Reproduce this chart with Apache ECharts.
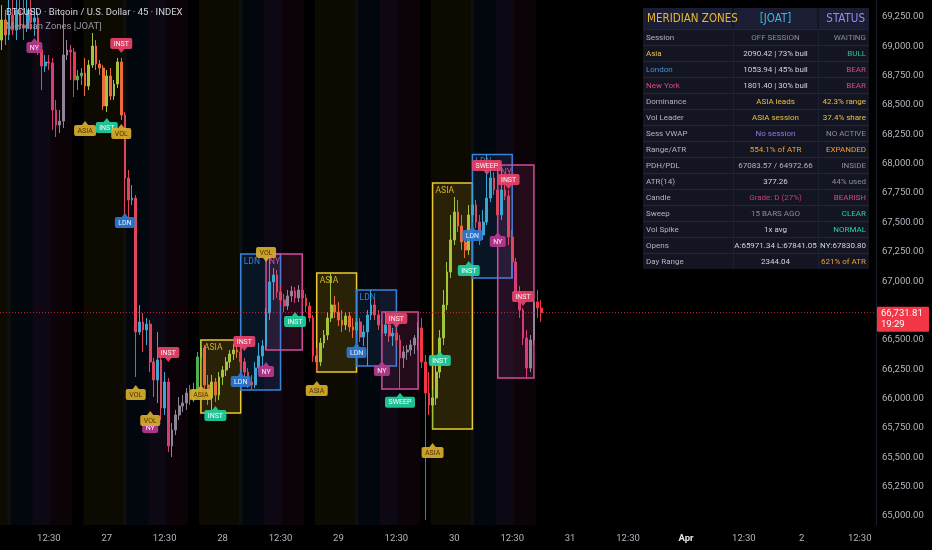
<!DOCTYPE html>
<html>
<head>
<meta charset="utf-8">
<style>html,body{margin:0;padding:0;background:#000;}#chart{width:932px;height:550px;}</style>
<script src="https://cdn.jsdelivr.net/npm/echarts@6/dist/echarts.min.js"></script>
</head>
<body>
<div id="chart"></div>
<script>
// ---------------- DATA ----------------
const titleText = 'BTCUSD · Bitcoin / U.S. Dollar · 45 · INDEX';
const subtitleText = 'Meridian Zones [JOAT]';
const barCount = 242;                 // visible bar slots (incl. empty future space)
const tickLabels = ['12:30','27','12:30','28','12:30','29','12:30','30','12:30','31','12:30','Apr','12:30','2','12:30'];
const firstTickBar = 13, barsPerTick = 16;
const yMin = 64923, yMax = 69395;
// 66,750 is hidden behind the last-price tag in the reference
const yTicks = [65000,65250,65500,65750,66000,66250,66500,67000,67250,67500,67750,68000,68250,68500,68750,69000,69250];
const lastPrice = 66731.81;
const countdown = '19:29';

// [open, close, low, high]
const candles = [
[69054,69225,68969,69352],[69225,69097,69012,69310],[69097,69267,69054,69395],[69267,69139,69097,69438],
[69139,69310,69054,69480],[69310,69182,69139,69480],[69182,69156,69054,69395],[69156,69310,69122,69480],
[69310,69208,69139,69438],[69208,69242,69088,69327],[69242,68969,68926,69293],[68969,68833,68628,69012],
[68833,68867,68782,68926],[68867,68858,68799,68926],[68858,68458,68288,68901],[68458,68330,68228,68543],
[68330,68364,68262,68458],[68364,68926,68305,69293],[68926,68969,68884,69054],[68969,68952,68714,69012],
[68952,68714,68569,68986],[68714,68748,68628,68799],[68748,68773,68671,68816],[68773,68662,68577,68901],
[68662,68841,68628,68884],[68841,69003,68816,69114],[69003,68850,68799,69054],[68850,68816,68756,68884],
[68816,68492,68458,68841],[68492,68748,68441,68799],[68748,68577,68543,68816],[68577,68679,68543,68714],
[68679,68867,68645,68901],[68867,68415,68373,68901],[68415,67879,67564,68441],[67879,67691,67504,67947],
[67691,67708,67649,67819],[67708,66567,66184,67734],[66567,66652,66541,66797],[66652,66584,66397,66729],
[66584,66635,66456,66686],[66635,66312,66226,66669],[66312,66158,66013,66346],[66158,66329,65962,66567],
[66329,65920,65817,66371],[65920,66141,65860,66226],[66141,65596,65545,66175],[65596,65732,65502,65792],
[65732,65860,65690,65903],[65860,65937,65817,66013],[65937,65962,65886,66030],[65962,66047,65903,66090],
[66047,65988,65945,66116],[65988,66073,65971,66133],[66073,66354,66030,66397],[66354,66431,66286,66499],
[66431,66116,66073,66456],[66116,66005,65945,66201],[66005,66141,65877,66201],[66141,66030,65971,66175],
[66030,66184,65988,66226],[66184,66243,66116,66277],[66243,66312,66192,66354],[66312,66380,66260,66414],
[66380,66414,66329,66465],[66414,66397,66346,66456],[66397,66312,66243,66431],[66312,66226,66175,66346],
[66226,66141,66090,66260],[66141,66116,66073,66201],[66116,66260,66090,66312],[66260,66363,66226,66473],
[66363,66448,66243,66499],[66448,66729,66414,66771],[66729,66993,66669,67231],[66993,67052,66840,67112],
[67052,66908,66857,67095],[66908,66840,66797,66967],[66840,66789,66737,66891],[66789,66874,66754,66925],
[66874,66916,66823,66959],[66916,66857,66814,66950],[66857,66925,66823,66967],[66925,66857,66797,66959],
[66857,66789,66737,66891],[66789,66686,66652,66823],[66686,66363,66312,66712],[66363,66312,66226,66431],
[66312,66473,66277,66516],[66473,66541,66431,66584],[66541,66686,66499,66737],[66686,66797,66652,67070],
[66797,66737,66686,66874],[66737,66669,66618,66823],[66669,66627,66567,66754],[66627,66703,66584,66737],
[66703,66610,66567,66737],[66610,66584,66516,66686],[66584,66652,66550,66686],[66652,66524,66482,66686],
[66524,66567,66448,66627],[66567,66712,66277,66754],[66712,66797,66669,66925],[66797,66712,66669,66840],
[66712,66627,66584,66754],[66627,66558,66516,66669],[66558,66627,66533,66737],[66627,66533,66482,66669],
[66533,66558,66448,66601],[66558,66499,66448,66584],[66499,66346,66081,66541],[66346,66397,66260,66448],
[66397,66414,66329,66456],[66414,66456,66363,66499],[66456,66516,66380,66541],[66516,66601,66414,66652],
[66601,66312,66260,66686],[66312,66047,64966,66371],[66047,65945,65860,66226],[65945,66005,65741,66073],
[66005,66226,65945,66286],[66226,66516,66175,66584],[66516,66797,66456,66925],[66797,67078,66754,67163],
[67078,67351,67027,67564],[67351,67589,67308,67717],[67589,67470,67419,67691],[67470,67334,67265,67564],
[67334,67265,67197,67419],[67265,67564,67223,67649],[67564,67649,67504,67836],[67649,67504,67453,67691],
[67504,67393,67308,67564],[67393,67504,67351,67606],[67504,67708,67478,68080],[67708,67879,67674,67989],
[67879,67777,67734,67930],[67777,67564,67308,67819],[67564,67777,67521,67989],[67777,67725,67691,67904],
[67725,67376,67308,67777],[67376,67163,67027,67436],[67163,66908,66857,67197],[66908,66754,66686,66959],
[66754,66516,66456,66771],[66516,66260,66175,66584],[66260,66499,66226,66541],[66499,66823,66456,66882],
[66823,66771,66686,66925],[66771,66731.81,66652,66840]
];

// session windows in bar indices: [session, firstBar, lastBar]
const sessionBands = [
['asia',0,2],['ldn',2,13],['ny',9,19],
['asia',23,34],['ldn',34,45],['ny',41,51],
['asia',55,66],['ldn',66,77],['ny',73,83],
['asia',87,98],['ldn',98,109],['ny',105,115],
['asia',119,130],['ldn',130,141],['ny',137,147]
];
const boxSessions = sessionBands.slice(6);
const sessionNames = {asia:'ASIA', ldn:'LDN', ny:'NY'};

// signal labels
const labelBars   = [9,33,23,29,33,34,46,37,41,41,55,59,67,66,73,73,81,87,98,109,105,110,121,119,129,130,134,140,137,144];
const labelPrices = [69071,68944,68364,68390,68339,67581,66312,66116,65835,65894,66116,65937,66405,66226,66311,67163,66737,66150,66473,66601,66320,66050,66405,65621,67172,67470,67904,67785,67419,66789];
const labelTexts  = ['NY','INST','ASIA','INST','VOL','LDN','INST','VOL','NY','VOL','ASIA','INST','INST','LDN','NY','VOL','INST','ASIA','LDN','INST','NY','SWEEP','INST','ASIA','INST','LDN','SWEEP','INST','NY','INST'];
const labelTones  = ['ny','bear','gold','bull','gold','ldn','bear','gold','ny','gold','gold','bull','bear','ldn','ny','gold','bull','gold','ldn','bear','ny','bull','bull','gold','bull','ldn','bear','bear','ny','bear'];
const labelSides  = ['up','down','up','up','up','up','down','up','up','up','up','up','down','up','up','down','up','up','up','down','up','up','up','up','up','up','down','down','up','down'];

// dashboard table
const tableHeader = ['MERIDIAN ZONES','[JOAT]','STATUS'];
const rowLabels = ['Session','Asia','London','New York','Dominance','Vol Leader','Sess VWAP','Range/ATR','PDH/PDL','ATR(14)','Candle','Sweep','Vol Spike','Opens','Day Range'];
const rowValues = ['OFF SESSION','2090.42 | 73% bull','1053.94 | 45% bull','1801.40 | 30% bull','ASIA leads','ASIA session','No session','554.1% of ATR','67083.57 / 64972.66','377.26','Grade: D (27%)','15 BARS AGO','1x avg','A:65971.34 L:67841.05','2344.04'];
const rowStatus = ['WAITING','BULL','BEAR','BEAR','42.3% range','37.4% share','NO ACTIVE','EXPANDED','INSIDE','44% used','BEARISH','CLEAR','NORMAL','NY:67830.80','621% of ATR'];

// ---------------- STYLES ----------------
const C = {gray:'#8a8e99', light:'#b2b5be', white:'#d1d4dc', gold:'#e6c040', blue:'#3f8fe0', pink:'#e0457b', green:'#1fc98b', teal:'#1fd6a6', purple:'#8c7ae6', orange:'#f0a028', rose:'#c2407a'};
const labelColCol = [C.light, C.gold, C.blue, C.pink, C.light, C.light, C.light, C.light, C.light, C.light, C.light, C.light, C.light, C.light, C.light];
const valueColCol = [C.gray, C.white, C.white, C.white, C.gold, C.gold, C.purple, C.orange, C.light, C.white, C.rose, C.gray, C.white, C.white, C.white];
const statusColCol = [C.gray, C.green, C.pink, C.pink, C.gold, C.gold, C.gray, C.orange, C.gray, C.gray, C.pink, C.teal, C.teal, C.white, C.orange];

const bandFill = {asia:'rgba(230,180,40,0.055)', ldn:'rgba(40,110,225,0.06)', ny:'rgba(205,50,140,0.06)'};
const boxStyle = {
  asia:{stroke:'#ecc92e', fill:'rgba(236,201,46,0.13)', text:'#d9b52c'},
  ldn:{stroke:'#3b82d9', fill:'rgba(59,130,217,0.12)', text:'#3f7fd0'},
  ny:{stroke:'#cf4c9b', fill:'rgba(207,76,155,0.12)', text:'#cf4c9b'}
};
const toneStyle = {
  gold:{fill:'#d9ad2b', text:'#4a3800'},
  bull:{fill:'#1fd1a0', text:'#effffa'},
  bear:{fill:'#e8436a', text:'#ffeef2'},
  ldn:{fill:'#2f78d2', text:'#e6f0ff'},
  ny:{fill:'#b63a8e', text:'#ffe9f7'}
};
const candleTint = {
  off:{up:'#4caf50', down:'#f23645'},
  asia:{up:'#a3c53a', down:'#ee6a3c'},
  ldn:{up:'#3ba6cf', down:'#e0455e'},
  ny:{up:'#8f8598', down:'#d83c78'}
};
const FONT = 'Roboto, "Noto Sans", sans-serif';
const NARROW = '"Liberation Sans Narrow", "DejaVu Sans Condensed", Roboto, sans-serif';

function sessionOf(i) {
  let s = 'off';
  const prio = {off:0, asia:1, ny:2, ldn:3};
  sessionBands.forEach(b => { if (i >= b[1] && i <= b[2] && prio[b[0]] > prio[s]) s = b[0]; });
  return s;
}

const categories = Array.from({length: barCount}, (_, i) => String(i));
const candleData = candles.map((c, i) => {
  const t = candleTint[sessionOf(i)];
  const col = c[1] >= c[0] ? t.up : t.down;
  return {value: c, itemStyle: {color: col, color0: col, borderColor: col, borderColor0: col, borderWidth: 1}};
});

const boxData = boxSessions.map((s, k) => {
  let hi = -Infinity, lo = Infinity;
  for (let j = s[1]; j <= s[2]; j++) { hi = Math.max(hi, candles[j][3]); lo = Math.min(lo, candles[j][2]); }
  return [s[1], hi, s[2], lo, k];
});

const measureCtx = document.createElement('canvas').getContext('2d');
measureCtx.font = '7px ' + FONT;

// table + title graphics
const tb = {x0:643, x1:733, x2:818, x3:869, top:8, headH:21, rowH:16};
const g = [];
const tableH = tb.headH + rowLabels.length * tb.rowH;
g.push({type:'rect', z:100, shape:{x:tb.x0, y:tb.top, width:tb.x3-tb.x0, height:tableH}, style:{fill:'#131522'}});
[[tb.x0, tb.x1-1], [tb.x1+1, tb.x2-1], [tb.x2+1, tb.x3]].forEach(c => {
  g.push({type:'rect', z:101, shape:{x:c[0], y:tb.top, width:c[1]-c[0], height:tb.headH}, style:{fill:'#1b1e32'}});
});
const hy = tb.top + tb.headH/2 + 0.5;
g.push({type:'text', z:102, style:{text:tableHeader[0], x:tb.x0+4, y:hy, fill:'#e8b830', font:'11.5px ' + NARROW, align:'left', verticalAlign:'middle'}});
g.push({type:'text', z:102, style:{text:tableHeader[1], x:(tb.x1+tb.x2)/2, y:hy, fill:'#3fb2ea', font:'11.5px ' + NARROW, align:'center', verticalAlign:'middle'}});
g.push({type:'text', z:102, style:{text:tableHeader[2], x:tb.x3-4, y:hy, fill:'#9a86f0', font:'11.5px ' + NARROW, align:'right', verticalAlign:'middle'}});
rowLabels.forEach((lab, r) => {
  const y = tb.top + tb.headH + r * tb.rowH;
  g.push({type:'rect', z:101, shape:{x:tb.x0, y:y, width:tb.x3-tb.x0, height:1}, style:{fill:'#23263a'}});
  const cy = y + tb.rowH/2 + 0.5;
  g.push({type:'text', z:102, style:{text:lab, x:tb.x0+3, y:cy, fill:labelColCol[r], font:'8px ' + FONT, align:'left', verticalAlign:'middle'}});
  g.push({type:'text', z:102, style:{text:rowValues[r], x:(tb.x1+tb.x2)/2, y:cy, fill:valueColCol[r], font:'8px ' + FONT, align:'center', verticalAlign:'middle'}});
  g.push({type:'text', z:102, style:{text:rowStatus[r], x:tb.x3-3, y:cy, fill:statusColCol[r], font:'8px ' + FONT, align:'right', verticalAlign:'middle'}});
});
[tb.x1, tb.x2].forEach(x => g.push({type:'rect', z:101, shape:{x:x, y:tb.top+tb.headH, width:1, height:tableH-tb.headH}, style:{fill:'#1d2033'}}));
g.push({type:'text', z:102, style:{text:titleText, x:6, y:13, fill:'#d1d4dc', font:'9.5px ' + FONT, align:'left', verticalAlign:'middle'}});
g.push({type:'text', z:102, style:{text:subtitleText, x:6, y:27, fill:'#9598a1', font:'9.5px ' + FONT, align:'left', verticalAlign:'middle'}});

const chart = echarts.init(document.getElementById('chart'), null, {renderer:'canvas'});
chart.setOption({
  backgroundColor:'#000',
  animation:false,
  grid:{left:0, right:56, top:0, bottom:25},
  xAxis:{
    type:'category', data:categories, boundaryGap:true,
    axisLine:{show:false}, axisTick:{show:false}, splitLine:{show:false},
    axisLabel:{
      color:'#b2b5be', fontSize:9.5, fontFamily:FONT, margin:9,
      interval:(idx) => idx >= firstTickBar && (idx - firstTickBar) % barsPerTick === 0,
      formatter:(v, idx) => {
        const t = tickLabels[(idx - firstTickBar) / barsPerTick];
        if (t === undefined) return '';
        return t === 'Apr' ? '{b|Apr}' : t;
      },
      rich:{b:{color:'#e6e8ee', fontWeight:'bold', fontSize:9.5, fontFamily:FONT}}
    }
  },
  yAxis:{
    type:'value', position:'right', min:yMin, max:yMax, scale:true,
    axisLine:{show:true, lineStyle:{color:'#1c1f2a'}}, axisTick:{show:false}, splitLine:{show:false},
    axisLabel:{customValues:yTicks, color:'#b2b5be', fontSize:9.5, fontFamily:FONT, margin:6,
      formatter:(v) => Number(v).toLocaleString('en-US', {minimumFractionDigits:2, maximumFractionDigits:2})}
  },
  graphic:g,
  series:[
    {
      type:'custom', z:1, silent:true,
      data:sessionBands.map((b, k) => [b[1], b[2], k]),
      renderItem:(params, api) => {
        const b = sessionBands[api.value(2)];
        const bw = api.size([1, 0])[0];
        const cs = params.coordSys;
        const x0 = api.coord([api.value(0), yMin])[0] - bw/2;
        const x1 = api.coord([api.value(1), yMin])[0] + bw/2;
        return {type:'rect', shape:{x:x0, y:cs.y, width:x1-x0, height:cs.height}, style:{fill:bandFill[b[0]]}};
      }
    },
    {
      type:'custom', z:2, silent:true,
      data:boxData,
      renderItem:(params, api) => {
        const s = boxSessions[api.value(4)];
        const st = boxStyle[s[0]];
        const p0 = api.coord([api.value(0), api.value(1)]);
        const p1 = api.coord([api.value(2), api.value(3)]);
        return {type:'group', children:[
          {type:'rect', shape:{x:p0[0], y:p0[1], width:p1[0]-p0[0], height:p1[1]-p0[1]}, style:{fill:st.fill, stroke:st.stroke, lineWidth:1.5}},
          {type:'text', style:{text:sessionNames[s[0]], x:p0[0]+3, y:p0[1]+3, fill:st.text, font:'8.5px ' + FONT, align:'left', verticalAlign:'top'}}
        ]};
      }
    },
    {
      type:'candlestick', z:3, name:'BTCUSD', barWidth:'62%',
      data:candleData
    },
    {
      type:'custom', z:4, silent:true,
      data:labelBars.map((b, i) => [b, labelPrices[i], i]),
      renderItem:(params, api) => {
        const i = api.value(2);
        const p = api.coord([api.value(0), api.value(1)]);
        const t = toneStyle[labelTones[i]];
        const txt = labelTexts[i];
        const w = Math.round(measureCtx.measureText(txt).width + 7);
        const h = 11, a = 4, x = p[0], y = p[1];
        const up = labelSides[i] === 'up';
        const top = up ? y + a : y - a - h;
        const tri = up ? [[x-3.5, y+a+0.5], [x+3.5, y+a+0.5], [x, y]] : [[x-3.5, y-a-0.5], [x+3.5, y-a-0.5], [x, y]];
        return {type:'group', children:[
          {type:'polygon', shape:{points:tri}, style:{fill:t.fill, opacity:0.92}},
          {type:'rect', shape:{x:x-w/2, y:top, width:w, height:h, r:2}, style:{fill:t.fill, opacity:0.92}},
          {type:'text', style:{text:txt, x:x, y:top+h/2+0.5, fill:t.text, font:'7px ' + FONT, align:'center', verticalAlign:'middle'}}
        ]};
      }
    },
    {
      type:'custom', z:5, silent:true, clip:false,
      data:[[candles.length - 1, lastPrice]],
      renderItem:(params, api) => {
        const cs = params.coordSys;
        const y = api.coord([api.value(0), api.value(1)])[1];
        const xr = cs.x + cs.width;
        return {type:'group', children:[
          {type:'line', shape:{x1:cs.x, y1:y, x2:xr, y2:y}, style:{stroke:'#f23645', lineWidth:1, lineDash:[1,2], opacity:0.8}},
          {type:'rect', shape:{x:xr+1, y:y-6, width:52, height:25, r:1}, style:{fill:'#f23645'}},
          {type:'text', style:{text:Number(lastPrice).toLocaleString('en-US', {minimumFractionDigits:2}), x:xr+5, y:y+0.5, fill:'#ffffff', font:'9.5px ' + FONT, align:'left', verticalAlign:'middle'}},
          {type:'text', style:{text:countdown, x:xr+5, y:y+12, fill:'#ffffff', font:'9.5px ' + FONT, align:'left', verticalAlign:'middle'}}
        ]};
      }
    }
  ]
});
</script>
</body>
</html>
